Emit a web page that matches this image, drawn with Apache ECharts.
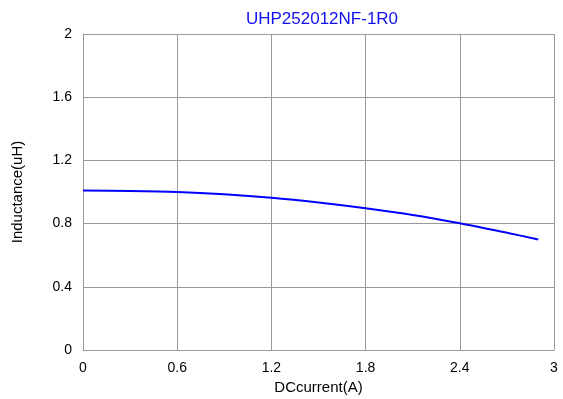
<!DOCTYPE html>
<html>
<head>
<meta charset="utf-8">
<script src="https://cdn.jsdelivr.net/npm/echarts@6/dist/echarts.min.js"></script>
<style>
html,body{margin:0;padding:0;background:#fff;}
#chart{width:563px;height:399px;}
</style>
</head>
<body>
<div id="chart"></div>
<script>
// DC bias curve: inductance versus DC current
const currentA = [0, 0.3, 0.6, 0.9, 1.2, 1.5, 1.8, 2.1, 2.4, 2.7, 2.9];
const inductanceUH = [1.01, 1.007, 1.0, 0.985, 0.963, 0.933, 0.897, 0.855, 0.802, 0.742, 0.70];
const xTicks = [0, 0.6, 1.2, 1.8, 2.4, 3];
const yTicks = [0, 0.4, 0.8, 1.2, 1.6, 2];

const font = 'Liberation Sans, Arial, sans-serif';
const chart = echarts.init(document.getElementById('chart'), null, {renderer: 'canvas'});
chart.setOption({
  animation: false,
  title: {
    text: 'UHP252012NF-1R0',
    left: 317, top: 6, textAlign: 'center',
    textStyle: {color: '#1010f0', fontSize: 17, fontWeight: 'normal', fontFamily: font}
  },
  grid: {left: 83, right: 9, top: 34, bottom: 49, containLabel: false, outerBoundsMode: 'none'},
  xAxis: {
    type: 'value', min: xTicks[0], max: xTicks[xTicks.length - 1], interval: 0.6,
    name: 'DCcurrent(A)', nameLocation: 'middle', nameGap: 26,
    nameTextStyle: {color: '#000', fontSize: 15, fontFamily: font},
    axisLine: {show: true, lineStyle: {color: '#999'}},
    axisTick: {show: false},
    axisLabel: {color: '#000', fontSize: 14, fontFamily: font, margin: 11,
      formatter: v => String(+v.toFixed(1))},
    splitLine: {show: true, lineStyle: {color: '#999', width: 1}}
  },
  yAxis: {
    type: 'value', min: yTicks[0], max: yTicks[yTicks.length - 1], interval: 0.4,
    name: 'Inductance(uH)', nameLocation: 'middle', nameGap: 58,
    nameTextStyle: {color: '#000', fontSize: 15, fontFamily: font},
    axisLine: {show: true, lineStyle: {color: '#999'}},
    axisTick: {show: true, inside: true, length: 5, lineStyle: {color: '#999'}},
    axisLabel: {color: '#000', fontSize: 14, fontFamily: font, margin: 11,
      formatter: v => String(+v.toFixed(1))},
    splitLine: {show: true, lineStyle: {color: '#999', width: 1}}
  },
  series: [{
    type: 'line',
    data: currentA.map((x, i) => [x, inductanceUH[i]]),
    smooth: 0.3,
    showSymbol: false,
    lineStyle: {color: '#0000ff', width: 2}
  }]
});
</script>
</body>
</html>
